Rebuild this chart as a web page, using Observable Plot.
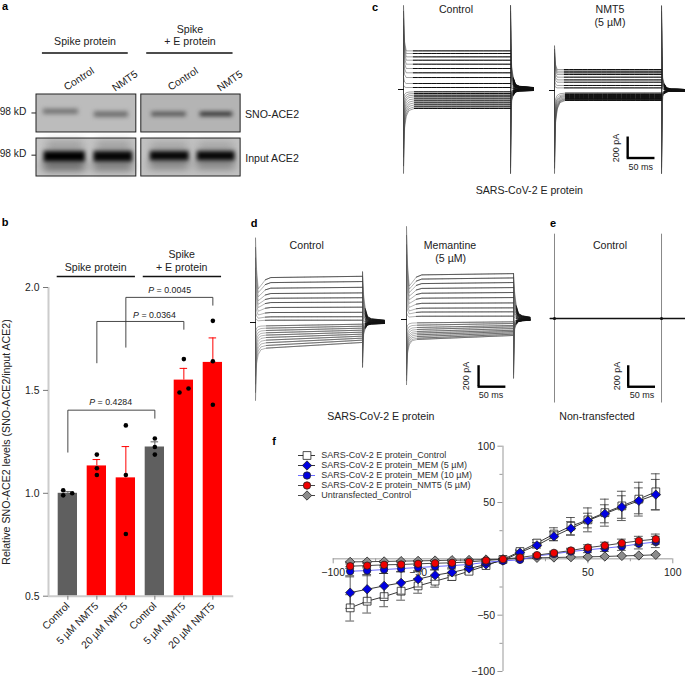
<!DOCTYPE html>
<html><head><meta charset="utf-8">
<script src="https://cdn.jsdelivr.net/npm/d3@7"></script>
<script src="https://cdn.jsdelivr.net/npm/@observablehq/plot@0.6"></script>
<style>
html,body{margin:0;padding:0;background:#fff}
#page{position:relative;width:685px;height:676px;overflow:hidden;background:#fff;font-family:"Liberation Sans",Arial,sans-serif;color:#222}
#page svg{position:absolute;max-width:none;overflow:visible}
.lbl{position:absolute;white-space:nowrap;line-height:1.1;transform-origin:center}
</style></head><body><div id="page"></div>
<script>
// ---------- Panel b: S-nitrosylation bar chart ----------
const barLabels = ["Control","5 µM NMT5","20 µM NMT5","Control","5 µM NMT5","20 µM NMT5"];
const barValues = [1.0,1.133,1.075,1.225,1.55,1.636];
const barErrTop = [1.008,1.164,1.227,1.25,1.607,1.755];
const barColors = ["#5f5f5f","#ff0000","#ff0000","#5f5f5f","#ff0000","#ff0000"];
const dotGroup  = [0,0,0,1,1,1,2,2,2,3,3,3,4,4,4,5,5,5];
const dotJitter = [-.16,-.16,.15,0,0,0,0,0,0,0,0,0,0,-.15,.16,0,0,0];
const dotValue  = [1.015,.99,1.0,1.188,1.122,1.089,1.33,1.089,.802,1.266,1.225,1.188,1.652,1.49,1.509,1.838,1.642,1.43];
const brackets = [
  {x1:0,x2:3,low1:1.2,top:1.404,low2:1.365},
  {x1:1,x2:4,low1:1.634,top:1.835,low2:1.797},
  {x1:2,x2:5,low1:1.71,top:1.952,low2:1.914}
];

// ---------- Panel f: current-voltage curves ----------
const voltages = [-90,-80,-70,-60,-50,-40,-30,-20,-10,0,10,20,30,40,50,60,70,80,90];
const seriesNames = ["SARS-CoV-2 E protein_Control","SARS-CoV-2 E protein_MEM (5 µM)","SARS-CoV-2 E protein_MEM (10 µM)","SARS-CoV-2 E protein_NMT5 (5 µM)","Untransfected_Control"];
const ivControl = [-43.5,-37.6,-33.5,-28.7,-24,-19.8,-15.7,-11,-6,-.5,6.5,14,22,29,34.6,41,47,53,59.5];
const ivControlErr = [11.7,10.5,9,8,6.5,5.3,3.5,2.5,1.5,.5,1.5,3,5.6,7.7,10.6,12,13,15,16];
const ivMem5 = [-30,-27,-24,-21.3,-18,-14.5,-12,-8.6,-5,-1.5,5.6,12,20,27,34,40,46,51.5,57];
const ivMem5Err = [14,12,11,10,7,4.5,3,2,1.5,.5,1.5,2.5,4,6,6.5,8,10,11.5,13.5];
const ivMem10 = [-11,-10.4,-9.5,-8.6,-7.7,-6.8,-6,-5,-3,-1.8,-.9,2.6,4.4,6.5,8,9.5,11,13.3,15];
const ivMem10Err = [4,3.5,3.5,3,3,2.5,2,1.5,1,.5,1,1.5,1.5,2,2.5,3,3.5,4.5,5];
const ivNmt5 = [-6.5,-6,-5.3,-5,-4.4,-3.9,-3.5,-2.7,-1.5,-.3,1.2,3.3,5.3,7.4,10,11.8,14,16,17.5];
const ivNmt5Err = [2,2,2,1.5,1.5,1.5,1,1,1,.5,1,1,1.5,2,2.5,3,3.5,4,4.5];
const ivUntrans = [-2.7,-2.5,-2.3,-2,-1.8,-1.5,-1.2,-1,-.6,-.3,.3,.9,1.2,1.5,1.8,2.1,2.6,3,3.6];
const ivUntransErr = [.5,.5,.5,.5,.5,.5,.5,.5,.5,.5,.5,.5,.5,.5,.5,.5,.5,.5,.5];

// ---------- Panels c, d, e: whole-cell current traces (pA) ----------
const cControlLevels = [368,343,311,279,241,200,159,114,57,19,-22,-38,-54,-70,-89,-108,-127,-146,-165,-181];
const cNmt5Levels = [200,184,168,152,127,101,79,48,25,-25,-38,-48,-57,-67,-76,-82,-89,-95];
const dControlStart = [428,380,327,276,231,190,143,95,54,22,-32,-54,-76,-98,-120,-143,-168,-193,-219,-244];
const dControlEnd = [440,390,335,282,236,194,146,97,55,22,-16,-35,-54,-73,-92,-111,-130,-149,-168,-190];
const dMemStart = [425,385,342,296,250,203,154,108,71,31,-32,-54,-76,-95,-114,-130,-146,-162,-178,-190];
const dMemEnd = [437,396,352,304,257,209,158,111,73,32,-22,-38,-57,-70,-86,-102,-114,-127,-140,-152];
const eTimes = [-8,0,196,240,258];
const eCurrents = [0,0,0,0,0];
const eSpikeTimes = [0,196];

// ---------- Panel a: immunoblot ----------
const blotBoxes = [
  {x1:0,x2:2,y1:0,y2:1,tone:"#bcbcbc"},{x1:2.1,x2:4.09,y1:0,y2:1,tone:"#b4b4b4"},
  {x1:0,x2:2,y1:1.16,y2:2.16,tone:"#c6c6c6"},{x1:2.1,x2:4.09,y1:1.16,y2:2.16,tone:"#c2c2c2"}];
const blotBands = [
  {x1:.14,x2:.84,y1:.39,y2:.52,tone:"#6f6f6f"},{x1:1.16,x2:1.84,y1:.46,y2:.6,tone:"#6a6a6a"},
  {x1:2.31,x2:3.0,y1:.47,y2:.58,tone:"#4e4e4e"},{x1:3.28,x2:3.93,y1:.47,y2:.58,tone:"#262626"},
  {x1:.15,x2:.98,y1:1.5,y2:1.78,tone:"#000000"},{x1:1.15,x2:1.93,y1:1.5,y2:1.78,tone:"#060606"},
  {x1:2.28,x2:3.06,y1:1.5,y2:1.75,tone:"#060606"},{x1:3.22,x2:3.98,y1:1.5,y2:1.75,tone:"#060606"}];
const blotSmears = [
  {x1:.14,x2:.98,y1:1.78,y2:2.0,tone:"#555"},{x1:1.14,x2:1.93,y1:1.78,y2:2.0,tone:"#6a6a6a"},
  {x1:2.27,x2:3.06,y1:1.75,y2:1.95,tone:"#707070"},{x1:3.21,x2:3.98,y1:1.75,y2:1.95,tone:"#707070"},
  {x1:.2,x2:.95,y1:1.25,y2:1.5,tone:"#9a9a9a"},{x1:1.2,x2:1.9,y1:1.25,y2:1.5,tone:"#9a9a9a"},
  {x1:2.3,x2:3.03,y1:1.3,y2:1.5,tone:"#9a9a9a"},{x1:3.25,x2:3.95,y1:1.3,y2:1.5,tone:"#9a9a9a"}];

// ---------- Text ----------
const labels = [
 ["a",5,6,11,"b"],["b",5,222,11,"b"],["c",375,6.5,11,"b"],["d",254,223,11,"b"],["e",553,223,11,"b"],["f",274,441,11,"b"],
 ["Spike protein",85,42,10.6],["Spike",190,29.5,10.6],["+ E protein",190,42,10.6],
 ["Control",79,79,10.4,"",-33],["NMT5",125,81,10.4,"",-35],["Control",183,79,10.4,"",-33],["NMT5",230,81,10.4,"",-35],
 ["98 kD",13,112,10.2],["98 kD",13,154,10.2],["SNO-ACE2",272,114.5,10.6],["Input ACE2",272,159,10.6],
 ["Spike protein",95.7,267.5,10.6],["Spike",181.7,255,10.6],["+ E protein",181.7,267.5,10.6],
 ["Relative SNO-ACE2 levels (SNO-ACE2/input ACE2)",7,441.5,10.6,"",-90],
 ["<i>P</i> = 0.4284",110.7,403,8.8],["<i>P</i> = 0.0364",154.5,315.7,8.8],["<i>P</i> = 0.0045",169.7,290.7,8.8],
 ["Control",456,10,10.6],["NMT5",610,10,10.6],["(5 µM)",610,22.7,10.6],["200 pA",616.7,148,9,"",-90],["50 ms",640.7,167.7,9],["SARS-CoV-2 E protein",529.3,190.7,10.6],
 ["Control",306.7,246,10.6],["Memantine",450,246,10.6],["(5 µM)",450.7,259.3,10.6],["200 pA",467,376,9,"",-90],["50 ms",491,395.7,9],["SARS-CoV-2 E protein",380.8,417.3,10.6],
 ["Control",610,245.7,10.6],["200 pA",617.7,376,9,"",-90],["50 ms",642,395.7,9],["Non-transfected",597,417.3,10.6]
];

// ---------- Helpers ----------
const page = document.getElementById("page");
const FONT = '"Liberation Sans",Arial,sans-serif';
function place(plot,left,top){plot.style.left=left+"px";plot.style.top=top+"px";plot.style.background="transparent";page.appendChild(plot);}

// ---------- Panel a ----------
const blotPlot = Plot.plot({
  width:215,height:90,margin:0,
  x:{domain:[0,4.3],range:[0,214.6],axis:null},
  y:{domain:[0,2.16],range:[0,82],axis:null},
  style:{background:"transparent"},
  marks:[
    Plot.rect(blotBoxes,{x1:"x1",x2:"x2",y1:"y1",y2:"y2",fill:"tone"}),
    Plot.rect(blotSmears,{x1:"x1",x2:"x2",y1:"y1",y2:"y2",fill:"tone"}),
    Plot.rect(blotBands,{x1:"x1",x2:"x2",y1:"y1",y2:"y2",fill:"tone"}),
    Plot.rect(blotBoxes,{x1:"x1",x2:"x2",y1:"y1",y2:"y2",stroke:"#222",strokeWidth:1,fill:"none"})
  ]
});
const blotLayers = blotPlot.querySelectorAll('g[aria-label="rect"]');
blotLayers[1].style.filter="blur(4px)";
blotLayers[2].style.filter="blur(2.2px)";
place(blotPlot,36.3,94.3);

// Small marker rules and header rules of panel a, in blot units
const blotAnnot = Plot.plot({
  width:260,height:130,margin:0,
  x:{domain:[-.7,4.5],range:[0,259.5],axis:null},
  y:{domain:[-1.2,2.16],range:[0,127.7],axis:null},
  style:{background:"transparent"},
  marks:[
    Plot.ruleY([.47,1.58],{x1:-.09,x2:0,stroke:"#222",strokeWidth:1}),
    Plot.ruleY([-1.11],{x1:.12,x2:1.84,stroke:"#111",strokeWidth:1.5}),
    Plot.ruleY([-1.11],{x1:2.21,x2:3.94,stroke:"#111",strokeWidth:1.5})
  ]
});
place(blotAnnot,1.4,48.7);

// ---------- Panel b ----------
const bars = barValues.map((v,i)=>({i,v,top:barErrTop[i],c:barColors[i]}));
const dots = dotValue.map((v,k)=>({x:dotGroup[k]+dotJitter[k],v}));
const bracketLines = brackets.flatMap((b,id)=>[
  {id,x:b.x1,y:b.low1},{id,x:b.x1,y:b.top},{id,x:b.x2,y:b.top},{id,x:b.x2,y:b.low2}]);
const bPlot = Plot.plot({
  width:240,height:396,marginLeft:48,marginRight:8.3,marginTop:17,marginBottom:70.3,
  x:{domain:[-.667,5.667],axis:null},
  y:{domain:[.5,2],axis:null},
  style:{background:"transparent",fontFamily:FONT,fontSize:"10.4px",color:"#222"},
  marks:[
    Plot.rectY(bars,{x1:d=>d.i-.333,x2:d=>d.i+.333,y1:.5,y2:"v",fill:"c"}),
    Plot.ruleX(bars,{x:"i",y1:"v",y2:"top",stroke:"c",strokeWidth:1}),
    Plot.ruleY(bars,{x1:d=>d.i-.13,x2:d=>d.i+.13,y:"top",stroke:"c",strokeWidth:1}),
    Plot.dot(dots,{x:"x",y:"v",r:2.3,fill:"#000"}),
    Plot.line(bracketLines,{x:"x",y:"y",z:"id",stroke:"#333",strokeWidth:.9}),
    Plot.ruleX([-.667],{y1:.5,y2:2,stroke:"#ccc",strokeWidth:2}),
    Plot.ruleY([.5],{x1:-.667,x2:5.72,stroke:"#ccc",strokeWidth:2}),
    Plot.axisY({ticks:[.5,1,1.5,2],tickFormat:".1f",tickSize:5,tickPadding:4,label:null,stroke:"#777"}),
    Plot.axisX({ticks:[0,1,2,3,4,5],tickFormat:i=>barLabels[i],tickSize:4,tickPadding:4,tickRotate:-45,label:null,stroke:"#777"}),
    Plot.ruleY([2.0535],{x1:-.367,x2:2.33,stroke:"#111",strokeWidth:1.5}),
    Plot.ruleY([2.0535],{x1:2.6,x2:5.3,stroke:"#111",strokeWidth:1.5})
  ]
});
place(bPlot,0,270);

// ---------- Trace panels ----------
const pxPerMs = 27.3/50, pxPerPa = 21/200;
const PULSE = 196;
function stepRows(start,end,peaks,dip,tailEnd){
  const maxP=d3.max(start), minP=d3.min(start);
  return start.flatMap((p,k)=>{
    const q=end[k];
    const on = p>0 ? peaks.onUp*p/maxP : peaks.onDown*p/minP;
    const offA = p>0 ? peaks.offUp*p/maxP : peaks.offDown*p/minP;
    const offB = p>0 ? peaks.offDown*p/maxP : peaks.offUp*p/minP;
    const shape = p>0
      ? [[2,p+(on-p)*.2],[5,p*(1-dip)],[10,p*(1-dip*.7)],[18,p*(1-dip*.2)],[28,p]]
      : [[2,p+(on-p)*.3],[5,p+(on-p)*.12],[10,p+(on-p)*.03],[20,p]];
    const pts=[[-8,0],[0,0],[0,on],...shape,[PULSE,q],[PULSE,offB],[PULSE,offA],
      [PULSE+2,q*.6],[PULSE+5,q*.3],[PULSE+9,q*.13],[PULSE+16,q*.08],[PULSE+tailEnd,q*.05]];
    return pts.map(([t,i])=>({k,t,i}));
  });
}
function traceMarks(rows,o){
  const plateau=rows.filter(d=>d.t>=14&&d.t<=PULSE&&!(d.t===PULSE&&false));
  const plateauOnly=[];
  // keep only the first point at the pulse end, so the overlay stops at the plateau
  const seen=new Set();
  for(const d of plateau){const key=d.k+"|"+d.t;if(d.t===PULSE&&seen.has(key))continue;seen.add(key);plateauOnly.push(d);}
  const tail=rows.filter(d=>d.t>=PULSE+5);
  const before=rows.filter(d=>d.t<0||(d.t===0&&d.i===0));
  return [
    Plot.line(rows,{x:"t",y:"i",z:"k",stroke:o.fan,strokeWidth:o.fanW}),
    Plot.line(plateauOnly,{x:"t",y:"i",z:"k",stroke:d=>d.i>0?o.up:o.down,strokeWidth:o.w,strokeDasharray:o.dash}),
    Plot.line(tail,{x:"t",y:"i",z:"k",stroke:"#111",strokeWidth:o.tailW}),
    Plot.line(before,{x:"t",y:"i",z:"k",stroke:"#111",strokeWidth:1})
  ];
}
function scaleBar(t,i){return [
  Plot.ruleX([t],{y1:i,y2:i+200,stroke:"#000",strokeWidth:2.4}),
  Plot.ruleY([i],{x1:t-1,x2:t+50,stroke:"#000",strokeWidth:2.4})];}
function traceFrame(originX,baselineY,marks){
  const p=Plot.plot({width:170,height:200,margin:0,
    x:{domain:[-20/pxPerMs,150/pxPerMs],range:[0,170],axis:null},
    y:{domain:[-100/pxPerPa,100/pxPerPa],range:[200,0],axis:null},
    color:{type:"identity"},
    style:{background:"transparent"},marks});
  place(p,originX-20,baselineY-100);
}
const cStyle={fan:"#444",fanW:.5,up:"#111",down:"#111",w:1,dash:"4 .7",tailW:1.1};
const dStyle={fan:"#555",fanW:.45,up:"#333",down:"#555",w:.7,dash:"6 .6",tailW:.8};
traceFrame(403,89.3,traceMarks(stepRows(cControlLevels,cControlLevels,{onUp:802,onDown:-801,offUp:802,offDown:-801},0,42),cStyle));
traceFrame(553.7,90,[...traceMarks(stepRows(cNmt5Levels,cNmt5Levels,{onUp:428,onDown:-792,offUp:808,offDown:-792},0,42),cStyle),...scaleBar(134,-643)]);
traceFrame(255.3,321.7,traceMarks(stepRows(dControlStart,dControlEnd,{onUp:808,onDown:-745,offUp:485,offDown:-428},.25,40),dStyle));
traceFrame(406,319.3,[...traceMarks(stepRows(dMemStart,dMemEnd,{onUp:888,onDown:-624,offUp:437,offDown:-561},.25,30),dStyle),...scaleBar(132,-640)]);
const eRows = eTimes.map((t,k)=>({t,i:eCurrents[k]}));
traceFrame(554.3,318.3,[
  Plot.ruleX(eSpikeTimes,{y1:-805,y2:803,stroke:"#888",strokeWidth:1}),
  Plot.line(eRows,{x:"t",y:"i",stroke:"#111",strokeWidth:1.3}),
  Plot.dot(eSpikeTimes,{x:d=>d,y:0,r:1.6,fill:"#111"}),
  ...scaleBar(135,-650)]);

// ---------- Panel f ----------
const seriesDefs = [
 {name:seriesNames[4],v:ivUntrans,e:ivUntransErr,sym:"diamond2",r:4.2,fill:"#8c8c8c",line:"#333"},
 {name:seriesNames[0],v:ivControl,e:ivControlErr,sym:"square",r:4.4,fill:"#fff",line:"#222"},
 {name:seriesNames[1],v:ivMem5,e:ivMem5Err,sym:"diamond2",r:4.2,fill:"#0000e0",line:"#222"},
 {name:seriesNames[2],v:ivMem10,e:ivMem10Err,sym:"circle",r:3.7,fill:"#0000e0",line:"#5a5aff"},
 {name:seriesNames[3],v:ivNmt5,e:ivNmt5Err,sym:"circle",r:3.7,fill:"#f00000",line:"#333"}
];
const ivMarks = seriesDefs.flatMap(s=>{
  const rows=voltages.map((x,k)=>({x,y:s.v[k],lo:s.v[k]-s.e[k],hi:s.v[k]+s.e[k]}));
  return [
    Plot.ruleX(rows,{x:"x",y1:"lo",y2:"hi",stroke:"#333",strokeWidth:.8}),
    Plot.ruleY(rows,{y:"lo",x1:d=>d.x-2.6,x2:d=>d.x+2.6,stroke:"#333",strokeWidth:.8}),
    Plot.ruleY(rows,{y:"hi",x1:d=>d.x-2.6,x2:d=>d.x+2.6,stroke:"#333",strokeWidth:.8}),
    Plot.line(rows,{x:"x",y:"y",stroke:s.line,strokeWidth:.9}),
    Plot.dot(rows,{x:"x",y:"y",symbol:s.sym,r:s.r,fill:s.fill,stroke:"#222",strokeWidth:.8})
  ];
});
const major=[-100,-50,50,100], minor=[-75,-25,25,75];
const fmt=d=>String(d).replace("-","−");
const fPlot = Plot.plot({
  width:395,height:241,marginLeft:42.7,marginRight:12.7,marginTop:10.7,marginBottom:5,
  x:{domain:[-100,100],axis:null},y:{domain:[-100,100],axis:null},
  style:{background:"transparent",fontFamily:FONT,fontSize:"10px",color:"#222"},
  marks:[
    Plot.ruleY([0],{x1:-100,x2:100,stroke:"#999",strokeWidth:1}),
    Plot.ruleX([0],{y1:-100,y2:100,stroke:"#999",strokeWidth:1}),
    Plot.ruleX(major,{y1:0,y2:-4.4,stroke:"#999"}),
    Plot.ruleX(minor,{y1:0,y2:-2.6,stroke:"#999"}),
    Plot.ruleY(major,{x1:0,x2:-3,stroke:"#999"}),
    Plot.ruleY(minor,{x1:0,x2:-1.8,stroke:"#999"}),
    Plot.text(major,{x:d=>d,y:0,text:fmt,dy:13.5,fontSize:10.5,fill:"#222"}),
    Plot.text(major,{x:0,y:d=>d,text:fmt,dx:-8,textAnchor:"end",fontSize:10.5,fill:"#222"}),
    ...ivMarks
  ]
});
place(fPlot,290,435);

// Legend of panel f
const legendPlot = Plot.plot({
  width:185,height:70,margin:0,
  x:{domain:[0,1],range:[0,17],axis:null},
  y:{type:"point",domain:seriesNames,range:[6,59.4],axis:null},
  style:{background:"transparent",fontFamily:FONT,color:"#333"},
  marks:seriesNames.map(n=>{
    const s=seriesDefs.find(d=>d.name===n);
    return [
      Plot.ruleY([n],{x1:0,x2:1,stroke:s.line,strokeWidth:.9}),
      Plot.dot([n],{x:.5,y:d=>d,symbol:s.sym,r:s.r,fill:s.fill,stroke:"#222",strokeWidth:.8}),
      Plot.text([n],{x:1,y:d=>d,text:d=>d,dx:5.7,textAnchor:"start",fontSize:9,fill:"#333"})
    ];
  })
});
place(legendPlot,298,442.3);

// ---------- Text labels ----------
for(const [text,x,y,size,weight,rot] of labels){
  const el=document.createElement("div");
  el.className="lbl";el.innerHTML=text;
  el.style.left=x+"px";el.style.top=y+"px";el.style.fontSize=size+"px";
  if(weight==="b"){el.style.fontWeight="700";el.style.color="#000";}
  el.style.transform=`translate(-50%,-50%)`+(rot?` rotate(${rot}deg)`:"");
  page.appendChild(el);
}
</script></body></html>
